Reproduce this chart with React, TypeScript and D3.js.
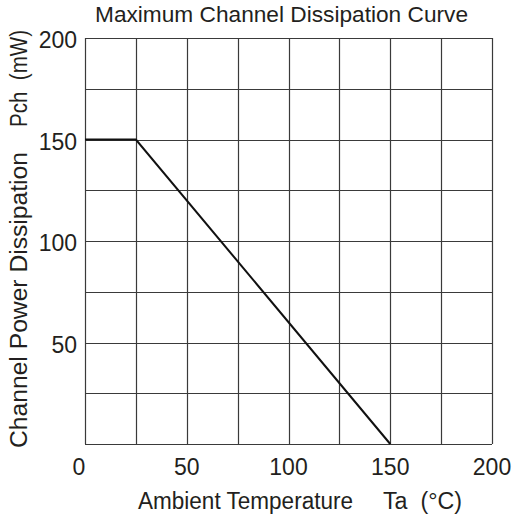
import React from "react";
import * as d3 from "d3";

const title = "Maximum Channel Dissipation Curve";
const xTicks = [0, 50, 100, 150, 200];
const yTicks = [50, 100, 150, 200];
const xGrid = [0, 25, 50, 75, 100, 125, 150, 175, 200];
const yGrid = [0, 25, 50, 75, 100, 125, 150, 175, 200];
const temperature = [0, 25, 150];
const power = [150, 150, 0];
const xLabelMain = "Ambient Temperature";
const xLabelUnit = "Ta  (°C)";
const yLabelMain = "Channel Power Dissipation";
const yLabelUnit = "Pch  (mW)";

const W = 514;
const H = 523;
const left = 85;
const right = 492;
const top = 38;
const bottom = 444;
const font = "'Liberation Sans', Arial, Helvetica, sans-serif";
const textColor = "#231f20";
const gridColor = "#3a3a3a";

export default function App() {
  const x = d3.scaleLinear().domain([0, 200]).range([left, right]);
  const y = d3.scaleLinear().domain([0, 200]).range([bottom, top]);
  const line = d3
    .line<number>()
    .x((d) => x(d))
    .y((_, i) => y(power[i]));

  return (
    <svg
      width={W}
      height={H}
      style={{ position: "absolute", left: 0, top: 0, background: "#fff" }}
      fontFamily={font}
    >
      <rect x={0} y={0} width={W} height={H} fill="#fff" />
      {xGrid.map((v) => (
        <line
          key={"vx" + v}
          x1={Math.round(x(v)) + 0.5}
          x2={Math.round(x(v)) + 0.5}
          y1={top}
          y2={bottom}
          stroke={gridColor}
          strokeWidth={1.2}
        />
      ))}
      {yGrid.map((v) => (
        <line
          key={"hy" + v}
          x1={left}
          x2={right}
          y1={Math.round(y(v)) + 0.5}
          y2={Math.round(y(v)) + 0.5}
          stroke={gridColor}
          strokeWidth={1.2}
        />
      ))}
      <path
        d={line(temperature) || ""}
        fill="none"
        stroke="#111"
        strokeWidth={2}
      />
      {yTicks.map((v) => (
        <text
          key={"yt" + v}
          x={77}
          y={y(v) + 10}
          textAnchor="end"
          fontSize={23}
          fill={textColor}
        >
          {v}
        </text>
      ))}
      {xTicks.map((v) => (
        <text
          key={"xt" + v}
          x={x(v) - (v === 0 ? 6 : 0)}
          y={bottom + 31}
          textAnchor="middle"
          fontSize={23}
          fill={textColor}
        >
          {v}
        </text>
      ))}
      <text
        x={95}
        y={22}
        fontSize={22}
        fill={textColor}
        textLength={373}
        lengthAdjust="spacingAndGlyphs"
      >
        {title}
      </text>
      <text
        x={138}
        y={509}
        fontSize={23}
        fill={textColor}
        textLength={215}
        lengthAdjust="spacingAndGlyphs"
      >
        {xLabelMain}
      </text>
      <text
        x={383}
        y={509}
        fontSize={23}
        fill={textColor}
        textLength={79}
        lengthAdjust="spacingAndGlyphs"
        style={{ whiteSpace: "pre" }}
      >
        {xLabelUnit}
      </text>
      <text
        transform="rotate(-90)"
        x={-448}
        y={27}
        fontSize={23}
        fill={textColor}
        textLength={296}
        lengthAdjust="spacingAndGlyphs"
      >
        {yLabelMain}
      </text>
      <text
        transform="rotate(-90)"
        x={-127}
        y={27}
        fontSize={23}
        fill={textColor}
        textLength={97}
        lengthAdjust="spacingAndGlyphs"
        style={{ whiteSpace: "pre" }}
      >
        {yLabelUnit}
      </text>
    </svg>
  );
}
